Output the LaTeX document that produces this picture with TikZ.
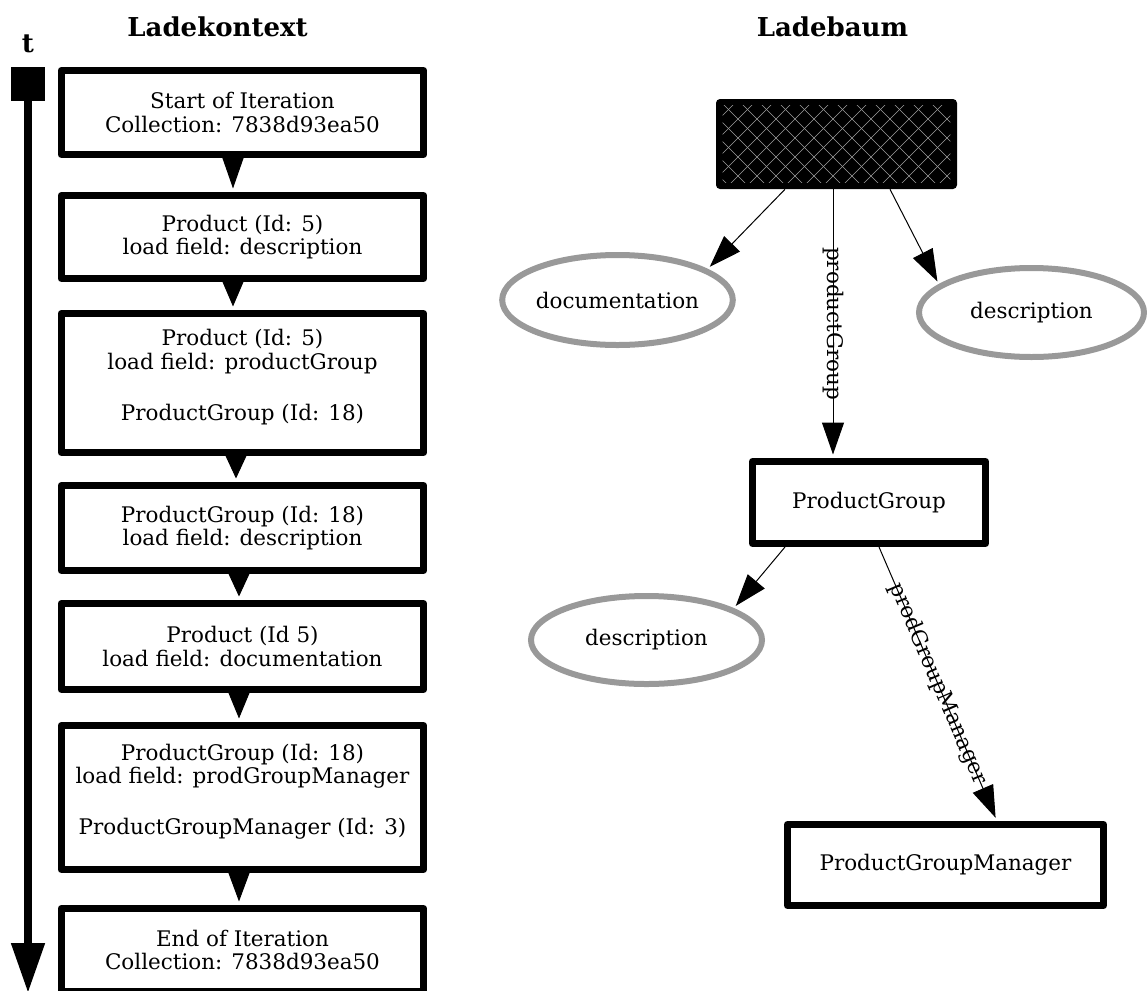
\documentclass[tikz,border=0pt]{standalone}
\usepackage{fontspec}
\setmainfont{DejaVu Serif}
\usetikzlibrary{arrows.meta,shapes.geometric}
\definecolor{leafgray}{RGB}{153,153,153}
\begin{document}
\begin{tikzpicture}[x=0.75pt,y=-0.75pt,
  every node/.style={font=\fontsize{16.1pt}{17.6pt}\selectfont},
  title/.style={font=\bfseries\fontsize{19.5pt}{20pt}\selectfont, anchor=base, inner sep=0pt},
  ctxbox/.style={draw=black, fill=white, line width=5.25pt, line join=round,
    align=center, inner sep=0pt, minimum width=271.9pt},
  flow/.style={line width=0.75pt, shorten >=2.625pt,
    -{Triangle[width=16.5pt,length=#1]}},
  treebox/.style={draw=black, fill=white, line width=5.25pt, line join=round,
    inner sep=0pt},
  leaf/.style={ellipse, draw=leafgray, line width=4.5pt, inner sep=0pt},
  treeedge/.style={draw=black, line width=0.75pt,
    -{Triangle[width=16.5pt,length=24pt]}},
  patline/.style={draw=white!62!black, line width=0.5pt}
]
\useasboundingbox (0,0) rectangle (1147,990);
\clip (0,0) rectangle (1147,990);

% ---------- headings ----------
\node[title] (ctxtitle) at (217.5,36) {Ladekontext};
\node[title] (treetitle) at (832.5,36) {Ladebaum};
\node[title] (taxis) at (28,52) {t};

% ---------- time axis ----------
\node[fill=black, minimum size=25.5pt, inner sep=0pt] (tsq) at (28,84) {};
\coordinate (tend) at (28,993);
\draw[line width=6pt, -{Triangle[width=24pt,length=37.5pt]}] (tsq.south) -- (tend);

% ---------- load context ----------
\node[ctxbox, minimum height=63pt] (b1) at (242.5,112.5)
  {Start of Iteration\\Collection: 7838d93ea50};
\node[ctxbox, minimum height=62.25pt] (b2) at (242.5,237)
  {Product (Id: 5)\\load field: description};
\node[ctxbox, minimum height=104.25pt] (b3) at (242.5,383)
  {Product (Id: 5)\\load field: productGroup\\[20.6pt]ProductGroup (Id: 18)\rule[-12pt]{0pt}{0pt}};
\node[ctxbox, minimum height=63.75pt] (b4) at (242.5,528)
  {ProductGroup (Id: 18)\\load field: description};
\node[ctxbox, minimum height=64.5pt] (b5) at (242.5,646.5)
  {Product (Id 5)\\load field: documentation};
\node[ctxbox, minimum height=108pt] (b6) at (242.5,797.5)
  {ProductGroup (Id: 18)\\load field: prodGroupManager\\[20.6pt]ProductGroupManager (Id: 3)\rule[-12pt]{0pt}{0pt}};
\node[ctxbox, minimum height=62.25pt] (b7) at (242.5,950)
  {End of Iteration\\Collection: 7838d93ea50};

\draw[flow=24pt]    ([shift={(-9.5,0)}]b1.south) -- ([shift={(-9.5,0)}]b2.north);
\draw[flow=19.5pt]  ([shift={(-9.5,0)}]b2.south) -- ([shift={(-9.5,0)}]b3.north);
\draw[flow=18pt]    ([shift={(-6.5,0)}]b3.south) -- ([shift={(-6.5,0)}]b4.north);
\draw[flow=18pt]    ([shift={(-3.5,0)}]b4.south) -- ([shift={(-3.5,0)}]b5.north);
\draw[flow=20.25pt] ([shift={(-3.5,0)}]b5.south) -- ([shift={(-3.5,0)}]b6.north);
\draw[flow=22.5pt]  ([shift={(-3.5,0)}]b6.south) -- ([shift={(-3.5,0)}]b7.north);

% ---------- load tree ----------
\node[fill=black, rounded corners=3pt, minimum width=180.75pt, minimum height=67.5pt,
  inner sep=0pt] (root) at (836.5,144) {};
\begin{scope}
  \clip ([shift={(7,-7)}]root.south west) rectangle ([shift={(-7,7)}]root.north east);
  \foreach \c in {800,819,...,1160} \draw[patline] (\c-95,95) -- (\c-195,195);
  \foreach \c in {505,524,...,870} \draw[patline] (\c+95,95) -- (\c+195,195);
\end{scope}

\node[leaf, minimum width=171.75pt, minimum height=67.5pt] (doc) at (617.5,300) {documentation};
\node[leaf, minimum width=168.75pt, minimum height=66.75pt] (desc1) at (1031.5,312.5) {description};
\node[treebox, minimum width=174.75pt, minimum height=61.5pt] (pg) at (869,502.5) {ProductGroup};
\node[leaf, minimum width=173.25pt, minimum height=66pt] (desc2) at (646.5,640) {description};
\node[treebox, minimum width=237pt, minimum height=60.75pt] (pgm) at (945.5,865) {ProductGroupManager};

\draw[treeedge, shorten >=2.25pt] ([shift={(-51.5,0)}]root.south) -- (doc.19);
\draw[treeedge, shorten >=2.25pt] ([shift={(53.5,0)}]root.south) -- (desc1.163);
\draw[treeedge, shorten >=2.625pt] ([shift={(-3.5,0)}]root.south)
  -- node[rotate=-90, inner sep=0pt] (lblpg) {productGroup} ([shift={(-36,0)}]pg.north);
\draw[treeedge, shorten >=2.25pt] ([shift={(-84,0)}]pg.south) -- (desc2.20);
\draw[treeedge, shorten >=2.625pt] ([shift={(10,0)}]pg.south)
  -- node[sloped, inner sep=0pt] (lblpgm) {prodGroupManager} ([shift={(51.5,0)}]pgm.north);
\end{tikzpicture}
\end{document}
